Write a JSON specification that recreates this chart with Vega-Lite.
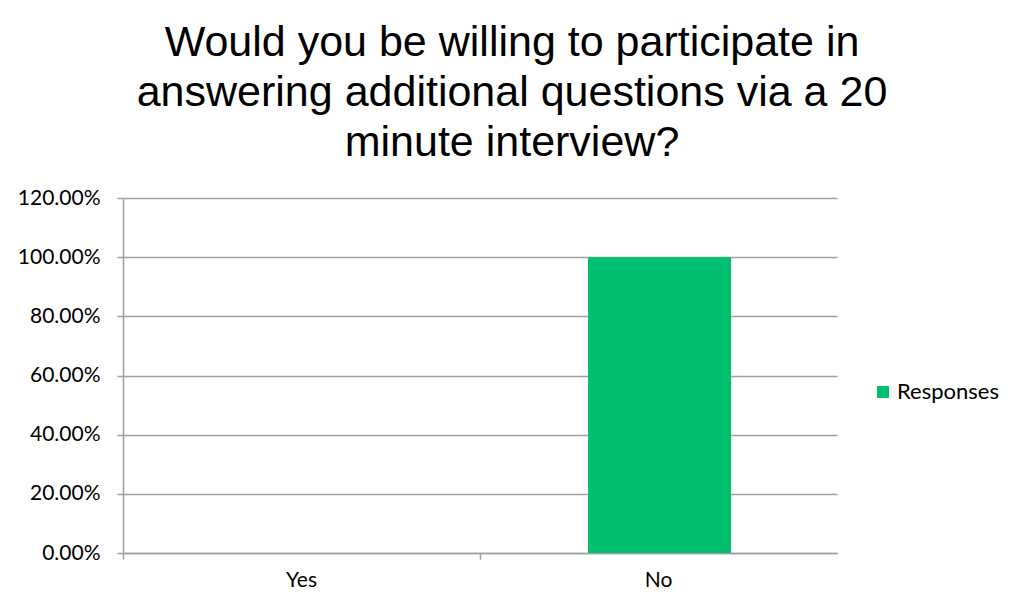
{
  "$schema": "https://vega.github.io/schema/vega-lite/v6.json",
  "width": 714,
  "height": 355,
  "autosize": "none",
  "padding": {"left": 123, "top": 198, "right": 184, "bottom": 61},
  "background": "white",
  "title": {
    "text": ["Would you be willing to participate in", "answering additional questions via a 20", "minute interview?"],
    "font": "Liberation Sans",
    "fontSize": 43,
    "fontWeight": "normal",
    "lineHeight": 50,
    "color": "black",
    "anchor": "middle",
    "frame": "group",
    "dx": 32,
    "offset": 22
  },
  "data": {
    "values": [
      {"answer": "Yes", "share": 0, "series": "Responses"},
      {"answer": "No", "share": 1.0, "series": "Responses"}
    ]
  },
  "mark": {"type": "bar", "size": 143, "xOffset": 1},
  "encoding": {
    "x": {
      "field": "answer",
      "type": "nominal",
      "sort": ["Yes", "No"],
      "scale": {"paddingInner": 0, "paddingOuter": 0},
      "axis": {
        "title": null,
        "labelAngle": 0,
        "labelFont": "Lato",
        "labelFontSize": 21,
        "labelColor": "black",
        "labelPadding": 10,
        "bandPosition": 0,
        "ticks": true,
        "tickSize": 6,
        "tickColor": "#a0a0a0",
        "tickWidth": 1.5,
        "domainColor": "#a0a0a0",
        "domainWidth": 1.5,
        "grid": false
      }
    },
    "y": {
      "field": "share",
      "type": "quantitative",
      "scale": {"domain": [0, 1.2], "nice": false},
      "axis": {
        "title": null,
        "values": [0, 0.2, 0.4, 0.6, 0.8, 1.0, 1.2],
        "format": ".2%",
        "labelFont": "Lato",
        "labelFontSize": 21,
        "labelColor": "black",
        "labelPadding": 17,
        "tickSize": 6,
        "tickColor": "#a0a0a0",
        "tickWidth": 1.5,
        "domainColor": "#a0a0a0",
        "domainWidth": 1.5,
        "grid": true,
        "gridColor": "#a0a0a0",
        "gridWidth": 1.5
      }
    },
    "color": {
      "field": "series",
      "type": "nominal",
      "scale": {"range": ["#00BF6F"]},
      "legend": {
        "title": null,
        "orient": "none",
        "legendX": 749,
        "legendY": 183,
        "symbolType": "square",
        "symbolSize": 144,
        "symbolStrokeWidth": 0,
        "labelFont": "Lato",
        "labelFontSize": 22,
        "labelColor": "black",
        "labelOffset": 3
      }
    }
  },
  "config": {
    "view": {"stroke": null}
  }
}
